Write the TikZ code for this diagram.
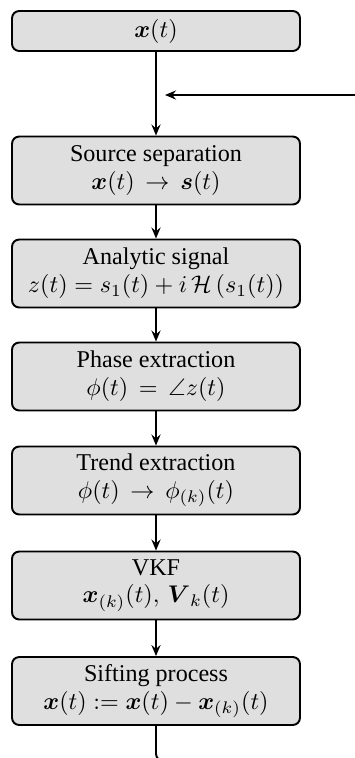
\documentclass[tikz,border=0pt]{standalone}
\usepackage{amsmath,amssymb}
\usepackage{fontspec}
\setmainfont{Liberation Serif}
\usetikzlibrary{arrows.meta}
\tikzset{
  blk/.style={draw=black, line width=0.8pt, fill=gray!25, rounded corners=3pt,
    minimum width=119.5pt, minimum height=28.2pt, align=center, inner sep=1pt,
    font=\fontsize{10pt}{11.5pt}\selectfont},
  conn/.style={line width=0.8pt, -{Stealth[length=4.6pt, width=3.8pt, inset=1.6pt]}},
}
\begin{document}
\begin{tikzpicture}[x=0.415pt, y=-0.415pt]
\clip (0,0) rectangle (355,758);
\node[blk, minimum height=16.6pt] (x) at (156,31) {$\boldsymbol{x}(t)$};
\node[blk] (src) at (156,170.5) {Source separation\\ $\boldsymbol{x}(t)\,\rightarrow\,\boldsymbol{s}(t)$};
\node[blk] (ana) at (156,273.5) {Analytic signal\\ $z(t) = s_1(t) + i\,\mathcal{H}\left(s_1(t)\right)$};
\node[blk] (pha) at (156,376.5) {Phase extraction\\ $\phi(t)\,=\,\angle z(t)$};
\node[blk] (tre) at (156,480.5) {Trend extraction\\ $\phi(t)\,\rightarrow\,\phi_{(k)}(t)$};
\node[blk] (vkf) at (156,585.5) {VKF\\ $\boldsymbol{x}_{(k)}(t),\,\boldsymbol{V}_k(t)$};
\node[blk] (sif) at (156,691) {Sifting process\\ $\boldsymbol{x}(t) := \boldsymbol{x}(t) - \boldsymbol{x}_{(k)}(t)$};
\coordinate (fb) at (165,95);
\coordinate (bl) at (156,761);
\coordinate (br) at (362,761);
\coordinate (tr) at (362,95);
\draw[conn] (x) -- (src);
\draw[conn] (src) -- (ana);
\draw[conn] (ana) -- (pha);
\draw[conn] (pha) -- (tre);
\draw[conn] (tre) -- (vkf);
\draw[conn] (vkf) -- (sif);
\draw[conn, rounded corners=3pt] (sif.south) -- (bl) -- (br) -- (tr) -- (fb);
\end{tikzpicture}
\end{document}
